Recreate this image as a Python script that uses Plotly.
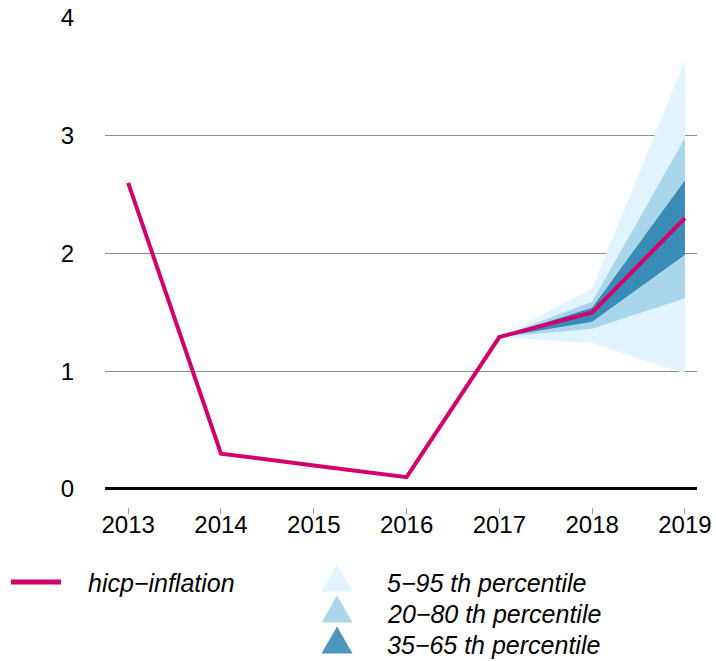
import plotly.graph_objects as go

# ---- data ----
years = [2013, 2014, 2015, 2016, 2017, 2018, 2019]
hicp = [2.6, 0.3, 0.2, 0.1, 1.29, 1.5, 2.3]

fan_years = [2017, 2018, 2019]
p05 = [1.29, 1.24, 0.98]
p95 = [1.29, 1.70, 3.64]
p20 = [1.29, 1.36, 1.62]
p80 = [1.29, 1.59, 2.98]
p35 = [1.29, 1.42, 1.99]
p65 = [1.29, 1.54, 2.62]

band_names = ["5\u221295 th percentile", "20\u221280 th percentile", "35\u221265 th percentile"]
band_colors = ["#e1f3fc", "#aad6ec", "#3a8bb8"]
legend_tri_colors = ["#e1f3fc", "#aad6eb", "#4d96bd"]
line_name = "hicp\u2212inflation"
line_color = "#d2006c"
ytick_vals = [0, 1, 2, 3, 4]

FONT = "Liberation Sans, Arial, Helvetica, sans-serif"

fig = go.Figure()
bands = [(p05, p95), (p20, p80), (p35, p65)]
for (lo, hi), col in zip(bands, band_colors):
    fig.add_trace(go.Scatter(
        x=fan_years + fan_years[::-1], y=hi + lo[::-1],
        fill="toself", fillcolor=col, line=dict(width=0, color=col),
        mode="lines", hoverinfo="skip", showlegend=False))

fig.add_trace(go.Scatter(x=years, y=hicp, mode="lines",
                         line=dict(color=line_color, width=4),
                         showlegend=False))

# ---- layout geometry ----
W, H = 716, 661
L, R, T, B = 105, 19, 18, 154
pw, ph = W - L - R, H - T - B

def px_x(px):
    return (px - L) / pw

def px_y(py):
    return (H - B - py) / ph

shapes = []
annotations = []

# legend: line entry
shapes.append(dict(type="line", xref="paper", yref="paper",
                   x0=px_x(11), x1=px_x(61), y0=px_y(582), y1=px_y(582),
                   line=dict(color=line_color, width=5)))
annotations.append(dict(xref="paper", yref="paper", x=px_x(86), y=px_y(583),
                        text=f"<i>{line_name}</i>", showarrow=False,
                        xanchor="left", yanchor="middle",
                        font=dict(family=FONT, size=25, color="#000")))

rows = [578, 609, 640]
for name, col, ry in zip(band_names, legend_tri_colors, rows):
    shapes.append(dict(type="path", xref="paper", yref="paper",
                       xsizemode="pixel", ysizemode="pixel",
                       xanchor=px_x(337), yanchor=px_y(ry),
                       path="M-15.5,-13.5 L15.5,-13.5 L0,13.5 Z",
                       fillcolor=col, line=dict(width=0)))
    annotations.append(dict(xref="paper", yref="paper", x=px_x(385), y=px_y(ry + 5),
                            text=f"<i>{name}</i>", showarrow=False,
                            xanchor="left", yanchor="middle",
                            font=dict(family=FONT, size=25, color="#000")))

fig.update_layout(
    width=W, height=H,
    margin=dict(l=L, r=R, t=T, b=B, pad=0, autoexpand=False),
    paper_bgcolor="white", plot_bgcolor="white",
    showlegend=False,
    font=dict(family=FONT, size=24, color="#000"),
    xaxis=dict(range=[2012.75, 2019.13], tickvals=years, ticktext=[str(y) for y in years],
               ticks="outside", ticklen=6, tickwidth=1, tickcolor="#999999",
               ticklabelstandoff=-10,
               showgrid=False, zeroline=False, showline=False, automargin=False,
               tickfont=dict(family=FONT, size=24, color="#000")),
    yaxis=dict(range=[-0.153, 4], tickvals=ytick_vals, ticktext=[str(v) for v in ytick_vals],
               showgrid=True, gridcolor="#8c8c8c", gridwidth=1,
               zeroline=True, zerolinecolor="#000000", zerolinewidth=3,
               showline=False, ticks="", ticklabelstandoff=30, automargin=False,
               tickfont=dict(family=FONT, size=24, color="#000")),
    shapes=shapes, annotations=annotations,
)

fig.write_html("out.html",
               config={"displayModeBar": False},
               post_script="document.body.style.margin='0';document.body.style.overflow='hidden';")
